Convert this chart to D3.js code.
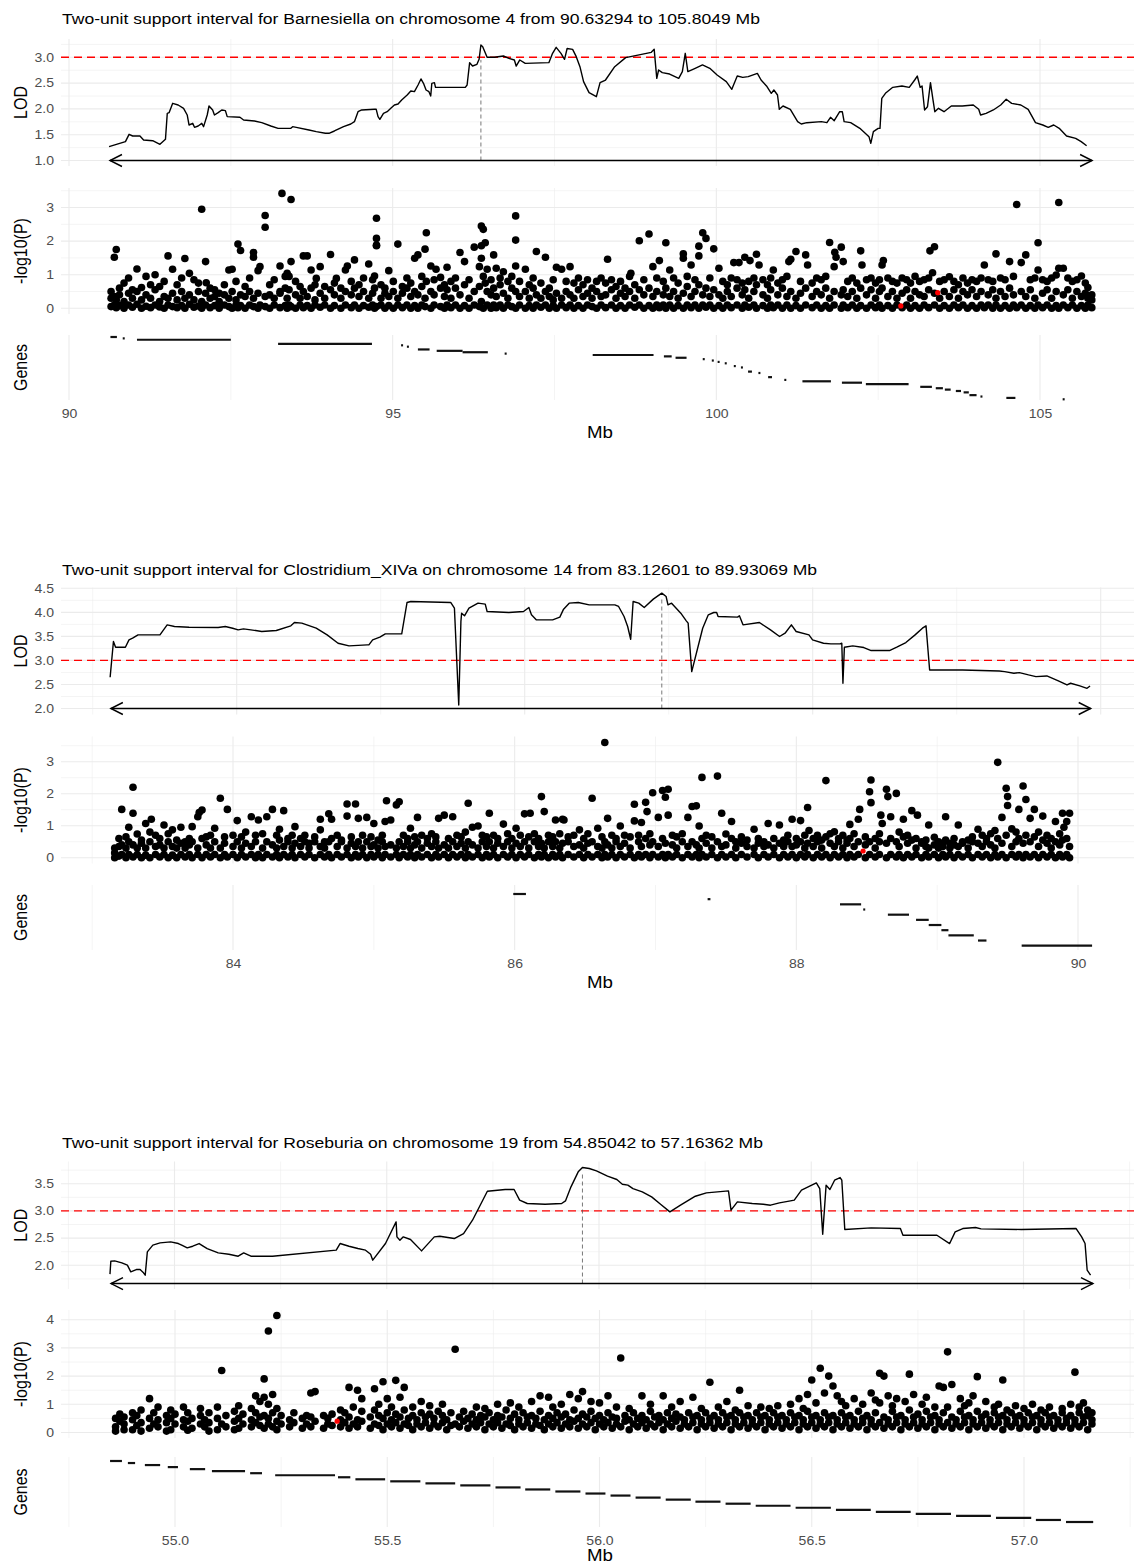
<!DOCTYPE html>
<html>
<head>
<meta charset="utf-8">
<script src="https://cdn.jsdelivr.net/npm/d3@7"></script>
<style>
  body { margin: 0; background: #fff; }
  text { font-family: "Liberation Sans", Arial, Helvetica, sans-serif; }
</style>
</head>
<body>
<div id="chart"></div>
<script>
// ---- titles and tick labels ----
var titles = [
  "Two-unit support interval for Barnesiella on chromosome 4 from 90.63294 to 105.8049 Mb",
  "Two-unit support interval for Clostridium_XIVa on chromosome 14 from 83.12601 to 89.93069 Mb",
  "Two-unit support interval for Roseburia on chromosome 19 from 54.85042 to 57.16362 Mb"
];
var lodTicks = [[1.0, 1.5, 2.0, 2.5, 3.0], [2.0, 2.5, 3.0, 3.5, 4.0, 4.5], [2.0, 2.5, 3.0, 3.5]];
var pTicks = [[0, 1, 2, 3], [0, 1, 2, 3], [0, 1, 2, 3, 4]];
var mbTicks = [[90, 95, 100, 105], [84, 86, 88, 90], [55.0, 55.5, 56.0, 56.5, 57.0]];
var mbFormat = ["d", "d", ".1f"];

var lodThreshold = 3.0;
var intervals = [[90.63294, 105.8049], [83.12601, 89.93069], [54.85042, 57.16362]];
var arrowLod = [1.0, 2.0, 1.665];
var peakMb = [96.363, 86.952, 55.961];
var peakTop = [2.95, 4.33, 3.72];

// ---- LOD profiles [Mb, LOD] ----
var lod1 = [[90.619,1.268],[90.872,1.365],[90.928,1.507],[90.984,1.475],[91.096,1.475],[91.152,1.397],[91.293,1.384],[91.405,1.313],[91.49,1.41],[91.518,1.914],[91.546,1.927],[91.602,2.108],[91.686,2.076],[91.77,2.011],[91.826,1.882],[91.854,1.688],[91.911,1.72],[91.939,1.643],[91.995,1.669],[92.051,1.72],[92.079,1.656],[92.135,1.882],[92.163,2.056],[92.219,1.979],[92.247,1.882],[92.304,1.927],[92.36,1.979],[92.416,1.966],[92.444,1.85],[92.641,1.837],[92.697,1.785],[92.865,1.766],[92.978,1.733],[93.118,1.669],[93.23,1.623],[93.427,1.623],[93.455,1.656],[93.511,1.643],[93.707,1.591],[93.82,1.559],[93.96,1.527],[94.016,1.527],[94.1,1.572],[94.241,1.656],[94.353,1.707],[94.409,1.753],[94.465,1.946],[94.522,1.979],[94.718,1.992],[94.746,1.992],[94.774,1.85],[94.802,1.798],[94.858,1.914],[94.915,1.946],[94.971,2.011],[95.027,2.076],[95.083,2.095],[95.139,2.173],[95.224,2.269],[95.28,2.347],[95.336,2.334],[95.392,2.463],[95.437,2.58],[95.476,2.496],[95.516,2.366],[95.56,2.334],[95.588,2.25],[95.605,2.496],[95.645,2.508],[95.662,2.418],[96.122,2.418],[96.15,2.463],[96.189,2.896],[96.234,2.831],[96.302,2.864],[96.335,2.961],[96.363,3.238],[96.391,3.206],[96.459,3.0],[96.571,3.0],[96.711,3.025],[96.796,2.98],[96.88,2.948],[96.908,2.831],[96.964,2.948],[97.048,2.883],[97.413,2.896],[97.47,3.077],[97.526,3.193],[97.6,3.077],[97.655,2.961],[97.695,3.17],[97.78,3.154],[97.836,3.012],[97.893,2.818],[97.949,2.528],[98.034,2.315],[98.147,2.237],[98.204,2.508],[98.288,2.56],[98.43,2.818],[98.599,2.993],[98.995,3.096],[99.04,3.154],[99.08,2.592],[99.108,2.754],[99.165,2.702],[99.278,2.676],[99.419,2.592],[99.475,2.722],[99.52,3.077],[99.56,2.722],[99.673,2.786],[99.786,2.851],[99.899,2.786],[100.012,2.657],[100.154,2.528],[100.239,2.379],[100.323,2.637],[100.408,2.612],[100.493,2.625],[100.634,2.689],[100.691,2.56],[100.775,2.444],[100.849,2.302],[100.889,2.366],[100.945,2.269],[100.973,1.992],[101.03,2.056],[101.143,1.992],[101.256,1.753],[101.312,1.707],[101.397,1.733],[101.623,1.753],[101.708,1.733],[101.764,1.837],[101.821,1.772],[101.906,1.946],[101.946,1.946],[101.974,1.753],[102.075,1.733],[102.217,1.623],[102.358,1.462],[102.386,1.333],[102.426,1.559],[102.5,1.623],[102.528,1.623],[102.556,2.205],[102.612,2.302],[102.726,2.418],[102.867,2.444],[102.98,2.418],[103.064,2.56],[103.104,2.637],[103.149,2.418],[103.178,2.444],[103.217,1.979],[103.262,2.043],[103.308,2.508],[103.347,2.173],[103.375,1.946],[103.432,2.011],[103.517,1.946],[103.63,2.056],[103.799,2.056],[103.969,2.076],[104.053,1.992],[104.082,1.882],[104.167,1.914],[104.279,1.979],[104.393,2.076],[104.478,2.186],[104.562,2.108],[104.704,2.076],[104.817,1.992],[104.93,1.733],[105.043,1.688],[105.127,1.643],[105.212,1.688],[105.297,1.623],[105.41,1.475],[105.551,1.429],[105.636,1.365],[105.72,1.287]];

var lod2 = [[83.121,2.65],[83.144,3.393],[83.159,3.275],[83.227,3.275],[83.252,3.427],[83.277,3.462],[83.315,3.531],[83.467,3.531],[83.517,3.74],[83.568,3.705],[83.669,3.691],[83.871,3.684],[83.921,3.705],[83.972,3.67],[84.01,3.636],[84.047,3.656],[84.098,3.636],[84.174,3.601],[84.275,3.622],[84.376,3.719],[84.401,3.788],[84.452,3.775],[84.552,3.67],[84.628,3.531],[84.704,3.358],[84.78,3.302],[84.906,3.323],[84.918,3.323],[84.944,3.427],[84.994,3.483],[85.032,3.552],[85.146,3.552],[85.183,4.205],[85.209,4.226],[85.486,4.205],[85.512,4.087],[85.542,2.073],[85.557,3.809],[85.562,3.983],[85.582,3.927],[85.613,4.087],[85.676,4.191],[85.726,4.17],[85.739,4.018],[85.89,3.997],[85.992,4.018],[86.029,4.101],[86.047,3.948],[86.08,3.844],[86.194,3.844],[86.244,3.9],[86.27,4.066],[86.309,4.191],[86.372,4.205],[86.448,4.156],[86.626,4.156],[86.652,4.122],[86.69,3.913],[86.715,3.705],[86.736,3.441],[86.753,4.226],[86.792,4.191],[86.83,4.101],[86.893,4.275],[86.952,4.4],[86.982,4.33],[86.995,4.156],[87.02,4.191],[87.084,3.983],[87.122,3.823],[87.135,3.775],[87.16,2.768],[87.236,3.67],[87.275,3.948],[87.313,3.997],[87.333,3.997],[87.343,3.913],[87.478,3.9],[87.491,3.927],[87.516,3.74],[87.63,3.788],[87.707,3.636],[87.77,3.497],[87.808,3.566],[87.852,3.74],[87.885,3.601],[87.974,3.531],[87.999,3.427],[88.075,3.358],[88.126,3.344],[88.19,3.344],[88.202,3.358],[88.21,2.525],[88.22,3.275],[88.278,3.302],[88.355,3.268],[88.406,3.205],[88.533,3.205],[88.584,3.275],[88.647,3.372],[88.711,3.531],[88.762,3.67],[88.787,3.719],[88.812,2.802],[89.041,2.802],[89.295,2.781],[89.333,2.768],[89.397,2.733],[89.435,2.747],[89.499,2.698],[89.55,2.663],[89.626,2.677],[89.702,2.58],[89.766,2.49],[89.791,2.525],[89.855,2.469],[89.905,2.42],[89.926,2.469]];

var lod3 = [[54.848,1.837],[54.85,2.075],[54.859,2.082],[54.876,2.045],[54.889,2.002],[54.897,1.879],[54.91,1.922],[54.919,1.922],[54.927,1.861],[54.931,1.818],[54.936,2.247],[54.949,2.37],[54.966,2.412],[54.991,2.431],[55.009,2.4],[55.017,2.37],[55.03,2.321],[55.043,2.351],[55.058,2.4],[55.077,2.308],[55.103,2.229],[55.128,2.204],[55.15,2.167],[55.163,2.229],[55.18,2.167],[55.231,2.167],[55.381,2.278],[55.39,2.4],[55.411,2.351],[55.432,2.308],[55.45,2.278],[55.462,2.204],[55.467,2.094],[55.497,2.4],[55.522,2.798],[55.524,2.523],[55.531,2.461],[55.539,2.523],[55.556,2.474],[55.582,2.265],[55.612,2.523],[55.625,2.535],[55.659,2.492],[55.681,2.584],[55.702,2.829],[55.737,3.362],[55.779,3.393],[55.8,3.393],[55.813,3.197],[55.831,3.136],[55.873,3.123],[55.912,3.136],[55.921,3.184],[55.934,3.442],[55.951,3.718],[55.961,3.797],[55.977,3.779],[55.994,3.736],[56.02,3.638],[56.042,3.577],[56.055,3.491],[56.068,3.473],[56.08,3.411],[56.102,3.35],[56.124,3.258],[56.145,3.123],[56.167,2.982],[56.192,3.105],[56.227,3.27],[56.253,3.332],[56.305,3.368],[56.311,3.013],[56.326,3.166],[56.361,3.136],[56.387,3.123],[56.404,3.105],[56.425,3.148],[56.451,3.184],[56.46,3.197],[56.477,3.381],[56.512,3.515],[56.52,3.411],[56.527,2.572],[56.535,3.473],[56.544,3.393],[56.555,3.564],[56.568,3.613],[56.572,3.564],[56.579,2.658],[56.641,2.688],[56.71,2.676],[56.716,2.553],[56.796,2.553],[56.826,2.4],[56.839,2.615],[56.857,2.676],[56.887,2.694],[56.9,2.67],[56.995,2.658],[57.124,2.676],[57.137,2.523],[57.145,2.4],[57.15,1.91],[57.158,1.818]];

// ---- SNP -log10(P): [Mb, p, p, ...] (several SNPs read at about the same position) ----
var snp1 = [[90.65,.05,.3,.5],[90.70,.1,.35,1.52],[90.73,.02,.25,1.75],[90.78,.08,.4,.6],[90.85,0,.2,.75],[90.92,.1,.45,.9],[90.98,.03,.3,.55],[91.05,.12,.5,1.17],[91.12,0,.25,.62],[91.19,.06,.4,.95],[91.26,.02,.3,.7],[91.33,.1,.55,1.0],[91.40,.04,.2,.65],[91.47,0,.35,.8],[91.53,.1,.3,1.56],[91.60,.05,.45,1.16],[91.67,.02,.25,.7],[91.74,.08,.5,.9],[91.79,0,.3,1.48],[91.86,.12,.4,1.04],[91.93,.03,.25,.85],[92.00,.07,.5,.75],[92.05,0,.2,2.95],[92.11,.1,.45,1.39],[92.12,.76],[92.18,.02,.3,.6],[92.25,.08,.35,.55],[92.32,0,.2,.45],[92.40,.1,.4,.7],[92.47,.05,.3,1.14],[92.52,0,.5,1.16],[92.58,.1,.25,.8],[92.61,.02,1.91],[92.65,.08,.4,1.72],[92.72,0,.35,.65],[92.79,.1,.5,.9],[92.85,.05,.3,1.66,1.52],[92.92,0,.45,1.12],[92.95,.1,1.24],[93.03,.05,.35,2.76,2.41],[93.10,0,.4,.7],[93.17,.1,.3,.85],[93.26,.02,.5,1.26,.45],[93.29,3.42],[93.34,.08,.6,.95],[93.37,0,.3,1.04],[93.40,.1,.55,.95],[93.43,.05,1.39,3.24],[93.50,0,.4,.8],[93.57,.1,.3,.65],[93.62,.02,.5,1.56],[93.68,.08,.35,1.56],[93.74,0,.6,1.14],[93.80,.1,.25,.7],[93.82,.89],[93.88,.03,.45,1.24],[93.95,.1,.3,.65],[94.04,0,.55,1.6],[94.10,.08,.4,.75],[94.13,.89],[94.20,0,.3,.6],[94.27,.1,.5,1.14],[94.30,1.26],[94.36,.02,.4,.8],[94.41,.1,.6,1.44],[94.48,0,.35,.7],[94.55,.08,.5,.9],[94.63,.03,.3,1.32],[94.69,.1,.45,.85],[94.72,0,.6,.96],[94.75,.05,2.68,2.08,1.86,1.88],[94.82,.1,.3,.7],[94.88,0,.45,.6],[94.94,.08,.35,1.12],[95.01,0,.5,.8],[95.08,.1,.3,1.91],[95.15,.02,.45,.65],[95.22,.1,.6,.9],[95.28,0,.35,.75],[95.34,.08,.5,1.49],[95.39,0,.4,1.59],[95.45,.1,.65,.95],[95.50,.05,.3,1.76],[95.52,2.25,.8],[95.59,0,.5,1.26],[95.64,.1,.4,.85],[95.67,1.16],[95.74,.05,.6,.92],[95.80,0,.35,.7],[95.84,.1,.55,1.22],[95.90,.02,.3,.8],[95.97,.1,.6,.9],[96.04,0,.4,1.66],[96.11,.08,.7,1.39],[96.18,0,.3,.85],[96.26,.1,.5,1.82],[96.34,.05,.65,1.24],[96.37,.2,2.45,1.86,1.49],[96.40,0,2.35,.95],[96.43,1.95,.75],[96.46,.1,.5,1.16],[96.52,0,.4,.85],[96.56,.1,.6,1.59],[96.60,.02,.35,1.19],[96.66,.1,.7,.9],[96.71,0,.45,1.09],[96.78,.1,.3,.8],[96.84,.05,.6,.95],[96.90,0,.5,2.75,2.03,1.26],[96.96,.1,.35,.8],[97.05,0,.5,1.16],[97.11,.08,.3,.7],[97.17,0,.6,.9],[97.22,.1,.4,1.69],[97.29,.03,.3,.75],[97.36,.1,.5,1.52],[97.42,0,.35,.6],[97.48,.08,.25,.85],[97.53,0,.45,1.22],[97.61,.1,.3,1.16],[97.68,.02,.5,.8],[97.74,.1,.4,1.24],[97.80,0,.3,.75],[97.87,.08,.55,.9],[97.94,0,.35,.7],[98.01,.1,.45,.85],[98.08,.05,.3,.6],[98.15,0,.5,.8],[98.22,.1,.35,.9],[98.29,.02,.4,.75],[98.32,1.46],[98.38,.1,.55,.85],[98.45,0,.3,.65],[98.52,.08,.45,.8],[98.59,0,.35,.6],[98.66,.1,.5,.95],[98.68,1.04],[98.74,.03,.3,.7],[98.81,.1,.55,2.01],[98.88,0,.4,.85],[98.96,.08,.6,2.21],[99.02,0,.35,1.24],[99.08,.1,.5,.9],[99.12,.02,1.42],[99.18,.1,.4,.8],[99.22,0,.6,1.95],[99.28,.1,.35,1.14],[99.34,0,.5,.9],[99.41,.08,.3,.75],[99.49,0,.45,1.62,1.49],[99.55,.1,.65,.95],[99.61,.02,.35,1.29],[99.67,.1,.5,.85],[99.73,0,.7,1.56,1.85],[99.79,.1,.4,2.25],[99.84,.03,.6,2.08],[99.90,.1,.35,.9],[99.96,0,.55,1.77],[100.04,.08,.4,1.19],[100.10,0,.3,.8],[100.17,.1,.5,.7],[100.23,.02,.35,.9],[100.27,1.36],[100.32,.1,.6,.85],[100.35,1.36],[100.40,0,.4,.75],[100.44,.1,.55,1.52],[100.50,.03,.3,.8],[100.52,1.42],[100.58,.1,.5,.9],[100.62,0,.7,1.61],[100.66,1.29],[100.72,.08,.4,.85],[100.79,0,.3,.7],[100.84,.1,.55,.9],[100.88,.02,1.14],[100.95,.1,.4,.75],[101.02,0,.6,.85],[101.09,.1,.35,.95],[101.12,1.39],[101.15,0,.5,1.46],[101.23,.08,.3,1.69],[101.30,0,.45,.8],[101.38,.1,.6,1.59],[101.41,1.29],[101.48,.02,.35,.75],[101.55,.1,.5,.9],[101.62,0,.4,.85],[101.69,.08,.6,.95],[101.75,0,.3,1.96],[101.82,.1,.5,1.24],[101.83,1.67],[101.85,1.52],[101.93,0,.4,1.82],[101.96,.1,.55,1.39],[102.03,.02,.35,.8],[102.10,.1,.5,.9],[102.17,0,.3,.75],[102.23,.08,.6,1.71],[102.25,1.29],[102.32,0,.4,.85],[102.39,.1,.55,.9],[102.46,.02,.3,.75],[102.52,.1,.5,.85],[102.56,0,.6,1.29],[102.58,1.42],[102.65,.08,.35,.9],[102.72,0,.5,.8],[102.79,.1,.3,.75],[102.87,.02,.45,.9],[102.94,.1,.55,.85],[103.00,0,.3,.75],[103.07,.08,.5,.95],[103.14,0,.4,.8],[103.21,.1,.35,.85],[103.28,.02,.55,.9],[103.30,1.71],[103.34,1.06],[103.37,.1,.45,1.83],[103.45,0,.3,.8],[103.52,.08,.5,.85],[103.60,0,.35,.94],[103.67,.1,.55,.8],[103.74,.02,.3,.7],[103.81,.1,.5,.9],[103.88,0,.4,.75],[103.95,.08,.55,.85],[104.02,0,.35,.8],[104.09,.1,.5,.9],[104.14,.02,1.29],[104.20,.1,.4,.85],[104.27,0,.55,.8],[104.32,.1,.3,1.62],[104.39,0,.5,.9],[104.46,.08,.35,.85],[104.53,0,.6,1.39],[104.59,.1,.4,.95],[104.64,.02,3.09],[104.71,.1,.5,1.36],[104.78,0,.35,1.59],[104.85,.08,.55,.85],[104.92,0,.3,.9],[104.97,.1,1.95,1.14],[105.04,.02,.45,.85],[105.11,.1,.55,.8],[105.18,0,.3,.9],[105.25,.08,.5,.99],[105.29,0,3.15,1.19],[105.36,.1,.4,1.19],[105.43,.02,.55,.9],[105.50,.1,.3,.8],[105.57,0,.5,.85],[105.64,.08,.35,.96],[105.70,0,.45,.75],[105.74,.1,.62,.3],[105.80,.02,.25,.4]];
var lead1 = [[102.85, 0.07], [103.42, 0.465]];

var snp2 = [[83.16,0,.3,.15],[83.19,.05,.35,.6],[83.21,.1,.4,1.51],[83.24,0,.3,.65],[83.26,.1,.5,.95],[83.29,.02,.4,2.2,1.39],[83.32,.1,.3,.74],[83.35,0,.45,.55],[83.38,.08,.3,1.07],[83.41,0,.5,.8],[83.42,1.2],[83.45,.1,.35,.7],[83.48,.02,.4,.6],[83.51,.1,.3,1.02],[83.54,0,.5,.75],[83.57,.08,.35,.87],[83.60,0,.3,.55],[83.63,.1,.45,.95],[83.66,.02,.3,.5],[83.69,.1,.4,.6],[83.71,0,.97,.5],[83.75,.1,.3,1.28],[83.76,1.41],[83.78,0,.6,1.49],[83.81,.1,.4,.65],[83.84,.02,.3,.7],[83.87,.1,.5,.92],[83.91,0,.3,1.86],[83.94,.1,.45,.65],[83.96,.02,1.51],[84.00,.1,.35,.7],[84.03,0,.5,1.16],[84.06,.1,.3,.65],[84.09,.02,.45,.8],[84.13,.1,.35,1.28],[84.16,0,.5,.7],[84.18,.1,1.18],[84.21,0,.3,.75],[84.24,.1,.5,1.28],[84.28,.02,.4,1.51],[84.31,.1,.3,.7],[84.33,0,.89,.55],[84.36,.1,.35,1.47],[84.39,.02,.5,.6],[84.42,.1,.3,.7],[84.44,0,.97,.45],[84.48,.1,.35,.6],[84.51,.02,.5,.7],[84.54,.1,.3,.45],[84.58,0,.5,.65],[84.62,.1,.35,1.2,.87],[84.65,.02,.3,.5],[84.68,.1,.5,1.37],[84.70,0,1.2,.6],[84.74,.1,.35,.7],[84.77,.02,.5,.55],[84.81,.1,.3,1.68,1.3],[84.84,0,.45,.65],[84.87,.1,.35,1.68],[84.89,.02,1.23,.5],[84.92,.1,.3,.7],[84.95,0,.5,1.26],[84.98,.1,.35,.65],[85.00,.02,1.07,.4],[85.03,.1,.3,.55],[85.06,0,.5,.7],[85.08,.1,1.13,.35],[85.09,1.78],[85.12,.02,.4,1.18],[85.16,.1,.3,1.65],[85.18,0,1.75,.5],[85.21,.1,.35,.7],[85.24,.02,.5,.6],[85.26,.1,.92,.3],[85.29,0,.4,.65],[85.31,.1,1.26,.5],[85.34,.02,.3,.7],[85.38,.1,.45,.6],[85.41,0,.35,.75],[85.44,.1,.5,.65],[85.46,.02,1.23,.3],[85.50,.1,.4,1.33],[85.53,0,.3,.6],[85.56,.1,.5,1.28],[85.59,.02,.35,.7],[85.62,.1,.45,.65],[85.65,0,.3,.8],[85.67,.1,1.7,.5],[85.70,.02,.95,.4],[85.74,.1,.3,.99],[85.77,0,.5,.7],[85.80,.1,.35,.65],[85.82,.02,1.39,.5],[85.85,.1,.3,.7],[85.88,0,.45,.6],[85.92,.1,.35,1.05],[85.95,.02,.5,.75],[85.98,.1,.3,.6],[86.01,0,.92,.45],[86.04,.1,.35,.7],[86.07,.02,1.37,.5],[86.10,.1,.3,.65],[86.11,1.39],[86.14,0,.5,.75],[86.17,.1,.35,.6],[86.19,.02,1.91,.45],[86.21,.1,1.44,.3],[86.24,0,.5,.7],[86.27,.1,.35,.65],[86.29,.02,1.18,.5],[86.32,.1,.3,.75],[86.34,0,1.2,.45],[86.35,1.18],[86.38,.1,.5,.65],[86.42,.02,.35,.7],[86.46,.1,.87,.4],[86.49,0,.3,.6],[86.52,.1,.45,.75],[86.55,.02,1.86,.5],[86.59,.1,.92,.35],[86.62,0,.3,.65],[86.64,.1,3.6,.5],[86.66,.02,1.23,.4],[86.69,.1,.3,.7],[86.72,0,.5,.6],[86.75,.1,.99,.35],[86.78,.02,.45,.7],[86.82,.1,.3,.65],[86.85,0,1.67,1.15],[86.88,.1,.5,.7],[86.90,.02,1.1,.35],[86.93,.1,1.73,.6],[86.94,1.44],[86.96,0,.4,.75],[86.98,.1,2.03,.5],[87.02,.02,1.26,.35],[87.05,.1,2.1,.6],[87.07,0,1.89,.45],[87.09,.1,2.14,1.33],[87.12,.02,.4,.7],[87.15,.1,.3,.65],[87.19,0,.5,.75],[87.23,.1,1.26,.35],[87.26,.02,1.6,.5],[87.29,.1,1.62,.4],[87.31,0,.99,.3],[87.33,.1,2.51,.6],[87.36,.02,.45,.7],[87.40,.1,.3,.65],[87.44,0,2.55,.5],[87.47,.1,1.39,.35],[87.50,.02,.74,.4],[87.54,.1,1.13,.6],[87.57,0,.3,.5],[87.61,.1,.45,.65],[87.65,.02,.35,.55],[87.70,.1,.89,.3],[87.73,0,.45,.6],[87.77,.1,.35,.5],[87.80,.02,1.07,.4],[87.84,.1,.3,.6],[87.88,0,1.02,.45],[87.91,.1,.35,.55],[87.94,.02,.5,.7],[87.97,.1,1.2,.35],[88.00,0,.4,.6],[88.03,.1,1.16,.5],[88.06,.02,.3,.7],[88.08,.1,1.57,.45],[88.09,.85],[88.12,0,.35,.6],[88.15,.1,.5,.7],[88.18,.02,.3,.55],[88.21,.1,2.41,.65],[88.24,0,.45,.75],[88.27,.1,.81,.35],[88.30,.02,.5,.6],[88.33,.1,.3,.7],[88.36,0,.55,.45],[88.38,.1,1.04,.6],[88.41,.02,.35,.75],[88.44,.1,1.2,.5],[88.45,1.51],[88.49,0,.4,.65],[88.52,.1,2.06,.5],[88.53,2.43,1.72],[88.56,.02,.3,.6],[88.59,.1,.5,.75],[88.60,1.33],[88.61,1.07],[88.64,0,2.14,.45],[88.65,1.91],[88.67,.1,1.28,.6],[88.71,.02,2.01,.5],[88.73,.1,.35,.8],[88.76,0,1.2,.65],[88.79,.1,.45,.7],[88.82,.02,1.47,.55],[88.85,.1,.3,.6],[88.86,1.33],[88.89,0,.5,.45],[88.92,.1,.35,.55],[88.94,.02,1.02,.3],[88.98,.1,.64,.4],[89.01,0,.3,.5],[89.04,.1,.45,.35],[89.06,.02,1.28,.55],[89.09,.1,.3,.45],[89.12,0,.4,.6],[89.15,.1,1.02,.35],[89.18,.02,.45,.5],[89.22,.1,.3,.55],[89.25,0,.5,.65],[89.29,.1,.89,.45],[89.32,.02,.35,.7],[89.35,.1,.5,.6],[89.38,0,.4,.75],[89.41,.1,.3,.85],[89.43,.02,2.98,.6],[89.46,.1,1.26,.45],[89.49,0,2.17,.7],[89.50,1.91,1.63],[89.53,.1,.35,.9],[89.56,.02,.5,.8],[89.58,.1,1.51,.6],[89.61,0,2.24,.45],[89.63,.1,1.82,.7],[89.66,.02,1.23,.5],[89.69,.1,1.51,.65],[89.72,0,.35,.8],[89.75,.1,1.3,.55],[89.78,.02,.45,.7],[89.81,.1,.3,.6],[89.84,0,1.13,.5],[89.87,.1,.4,.75],[89.89,.02,1.39,.55],[89.90,.95],[89.92,.1,1.13,.6],[89.94,0,1.39,.35]];
var lead2 = [[88.474, 0.21]];

var snp3 = [[54.86,.2,.5,.05],[54.87,.4,.65],[54.88,.3,.55,.1],[54.90,.1,.45,.7],[54.91,.25,.6],[54.92,.35,.8,.05],[54.94,.15,.5,1.2],[54.95,.3,.7],[54.96,.2,.45,.9],[54.98,.35,.6,.05],[54.99,.1,.5,.8],[55.00,.3,.65],[55.02,.2,.45,.9],[55.03,.4,.7,.08],[55.04,.15,.5],[55.06,.3,.6,.85],[55.07,.2,.45],[55.08,.35,.7,.05],[55.10,.1,.5,.9],[55.11,.3,2.2],[55.12,.2,.6],[55.14,.4,.75,.1],[55.15,.15,.5,.95],[55.16,.3,.65],[55.18,.2,.45,.85],[55.19,.35,.7,1.3],[55.20,.25,.55,1.1],[55.21,.15,.6,1.25,1.9],[55.22,.3,.5,3.6,1.0],[55.23,.2,.7,1.35],[55.24,.1,.4,4.15,.85],[55.25,.3,.6],[55.27,.2,.45],[55.28,.35,.7],[55.30,.15,.5],[55.31,.3,.6],[55.32,.2,.55,1.4],[55.33,.4,1.45],[55.35,.15,.6],[55.36,.3,.5],[55.37,.25,.65],[55.39,.2,.45,.8],[55.40,.35,.7],[55.41,.15,.55,1.6],[55.42,.3,.9],[55.43,.2,.45,1.5],[55.44,.4,.75,1.2],[55.46,.15,.55],[55.47,.3,.8,1.55],[55.48,.25,.6,1.0],[55.49,.1,.5,1.8],[55.50,.3,.7,1.2],[55.51,.2,.45,.9],[55.52,.35,.65,1.85],[55.53,.15,.55,1.25],[55.54,.3,.8,1.6],[55.55,.25,.5],[55.56,.1,.6,.9],[55.57,.3,.45],[55.58,.2,.7,1.1],[55.59,.35,.55],[55.60,.15,.65,.95],[55.61,.3,.5],[55.62,.2,.75],[55.63,.35,.6,1.0],[55.64,.1,.45],[55.65,.25,.7],[55.66,.3,2.95],[55.67,.2,.55],[55.68,.4,.75],[55.69,.15,.5],[55.70,.3,.65],[55.71,.2,.45,.9],[55.72,.35,.6],[55.73,.1,.55,.85],[55.74,.3,.7],[55.75,.2,.45],[55.76,.35,.6,1.0],[55.77,.15,.55],[55.78,.3,.8],[55.79,.25,.5,1.05],[55.80,.1,.65],[55.81,.3,.45,.9],[55.82,.2,.7],[55.83,.35,.55],[55.84,.15,.6,1.1],[55.85,.3,.5],[55.86,.25,.75,1.3],[55.87,.1,.45],[55.88,.3,.6,1.25],[55.89,.2,.5,.9],[55.90,.35,.7],[55.91,.15,.55,1.0],[55.92,.3,.65],[55.93,.2,.45,1.35],[55.94,.4,.8],[55.95,.15,.5,1.2],[55.96,.3,.65,1.45],[55.97,.2,.55],[55.98,.35,.75,1.1],[55.99,.1,.5],[56.00,.3,.6,1.05],[56.01,.2,.45],[56.02,.35,.7,1.3],[56.03,.15,.55],[56.04,.3,.5,.9],[56.05,.2,2.64],[56.06,.4,.6],[56.07,.1,.45,.85],[56.08,.3,.7],[56.09,.2,.5],[56.10,.35,.6,1.3],[56.11,.15,.45],[56.12,.3,.75,1.0],[56.13,.2,.55],[56.14,.35,.6],[56.15,.1,.45,1.3],[56.16,.3,.7],[56.17,.2,.5,.9],[56.18,.4,.65],[56.19,.15,.55,1.1],[56.20,.3,.45],[56.21,.2,.7],[56.22,.35,.55,1.25],[56.23,.1,.6],[56.24,.3,.45,.85],[56.25,.2,.7],[56.26,.35,.5,1.78],[56.27,.15,.6],[56.28,.3,.45,.9],[56.29,.2,.7],[56.30,.35,.55,1.1],[56.31,.1,.6],[56.32,.3,.45,.8],[56.33,.2,.7,1.5],[56.34,.35,.55],[56.35,.15,.6,.95],[56.36,.3,.45],[56.37,.2,.7],[56.38,.35,.55,.9],[56.39,.1,.6],[56.40,.3,.45,.85],[56.41,.2,.7],[56.42,.35,.55,.95],[56.43,.15,.6],[56.44,.3,.45],[56.45,.2,.7,1.0],[56.46,.35,.55],[56.47,.1,.6,1.2],[56.48,.3,.45,.85],[56.49,.2,.75,1.35],[56.50,.35,.55,1.86],[56.51,.15,.6,1.05],[56.52,.3,.45,2.28],[56.53,.2,.7,1.4],[56.54,.35,.55,2.0],[56.55,.1,.6,1.65],[56.56,.3,.45,1.3],[56.57,.2,.7,1.1],[56.58,.35,.55,.95],[56.59,.15,.6],[56.60,.3,.45,1.2],[56.61,.2,.75],[56.62,.35,.5,1.0],[56.63,.1,.6],[56.64,.3,.45,1.4],[56.65,.2,.7,1.15],[56.66,.35,2.1,1.05],[56.67,.15,.55,2.0],[56.68,.3,.45,1.3],[56.69,.2,.75,.95],[56.70,.35,.55,1.2],[56.71,.1,.6],[56.72,.3,.45,1.1],[56.73,.2,2.07,.8],[56.74,.35,.55,1.35],[56.75,.15,.65],[56.76,.3,.45,1.0],[56.77,.2,.75,1.25],[56.78,.35,.55],[56.79,.1,.6,.9],[56.80,.3,.45,1.65],[56.81,.2,.7,1.6],[56.82,.35,2.86,.9],[56.83,.15,.55,1.7],[56.84,.3,.45],[56.85,.2,.75,1.2],[56.86,.35,.55,.95],[56.87,.1,.6,1.05],[56.88,.3,.45,1.3],[56.89,.2,1.98,.75],[56.90,.35,.55],[56.91,.15,.65,1.1],[56.92,.3,.45],[56.93,.2,.7,.9],[56.94,.35,.55,1.0],[56.95,.1,1.86,.6],[56.96,.3,.45,.8],[56.97,.2,.7],[56.98,.35,.55,.95],[56.99,.15,.6],[57.00,.3,.45,.85],[57.01,.2,.7],[57.02,.35,.55,1.0],[57.03,.1,.6],[57.04,.3,.45,.8],[57.05,.2,.7],[57.06,.35,.55,.9],[57.07,.15,.6],[57.08,.3,.45],[57.09,.2,.7,.85],[57.10,.35,.5],[57.11,.15,.6,1.0],[57.12,.3,.45,2.14],[57.13,.2,.7,.9],[57.14,.35,.55,1.05],[57.15,.1,.6,.8],[57.16,.3,.45,.7]];
var lead3 = [[55.382, 0.4]];

// ---- genes: [start Mb, end Mb, row] ----
var genes1 = [[90.64,90.74,0],[90.83,90.86,1],[91.05,92.5,2],[93.23,94.68,5],[95.13,95.16,6],[95.22,95.25,7],[95.39,95.57,9],[95.68,96.08,10],[96.08,96.47,11],[96.73,96.75,12],[98.09,99.03,13],[99.19,99.31,14],[99.37,99.54,15],[99.79,99.81,16],[99.93,99.95,17],[100.02,100.04,18],[100.13,100.15,19],[100.27,100.29,21],[100.38,100.4,22],[100.49,100.55,25],[100.65,100.67,26],[100.8,100.86,29],[101.05,101.07,31],[101.33,101.77,32],[101.94,102.25,33],[102.31,102.97,34],[103.15,103.33,36],[103.39,103.5,37],[103.53,103.62,38],[103.7,103.78,39],[103.82,103.9,40],[103.91,104.02,42],[104.08,104.1,43],[104.48,104.62,44],[105.35,105.37,45]];
var genes2 = [[85.99,86.08,0],[87.37,87.39,1],[88.31,88.46,2],[88.475,88.485,3],[88.65,88.8,4],[88.85,88.94,5],[88.94,89.03,6],[89.03,89.08,7],[89.08,89.26,8],[89.29,89.35,9],[89.6,90.1,10]];
var genes3 = [[54.847,54.875,0],[54.889,54.906,1],[54.929,54.965,2],[54.983,55.007,3],[55.035,55.071,4],[55.087,55.165,5],[55.177,55.205,6],[55.236,55.377,7],[55.384,55.413,8],[55.425,55.495,9],[55.507,55.578,10],[55.59,55.66,11],[55.672,55.743,12],[55.755,55.814,13],[55.825,55.884,14],[55.896,55.955,15],[55.967,56.014,16],[56.026,56.073,17],[56.085,56.144,18],[56.156,56.215,19],[56.226,56.285,20],[56.297,56.356,21],[56.368,56.45,22],[56.462,56.545,23],[56.557,56.639,24],[56.651,56.733,25],[56.745,56.828,26],[56.84,56.922,27],[56.934,57.017,28],[57.028,57.087,29],[57.099,57.163,30]];

// ---- page geometry ----
var W = 1134, H = 1564, LEFT = 61, RIGHT = 1134;
var SX = 1.17; // lettering in the reference is a little wider than tall
var layout = [
  {titleY: 24, lod: [39, 166], snp: [188, 314], gene: [335, 400], mbY: 438,
   lodX: [[90, 105], [69, 1040]], botX: [[90, 105], [69, 1040]],
   lodY: [[1, 3], [160.5, 57.3]], pY: [[0, 3], [308.3, 207.5]], gY: [[0, 45], [337, 399.3]]},
  {titleY: 575, lod: [587.5, 714.5], snp: [736.5, 863.5], gene: [885, 950], mbY: 988,
   lodX: [[83, 90], [92.7, 1100.7]], botX: [[84, 90], [233, 1078]],
   lodY: [[2, 4.5], [708.5, 588.3]], pY: [[0, 3], [857.7, 761.7]], gY: [[0, 10], [894, 945.7]]},
  {titleY: 1148, lod: [1161.5, 1289], snp: [1310, 1438], gene: [1457, 1527], mbY: 1561,
   lodX: [[55, 57], [174.5, 1023.5]], botX: [[55, 57], [175, 1024]],
   lodY: [[2, 3.5], [1265.3, 1183.7]], pY: [[0, 4], [1432.5, 1319.7]], gY: [[0, 30], [1461, 1522]]}
];

var panels = [
  {lod: lod1, snp: snp1, lead: lead1, genes: genes1},
  {lod: lod2, snp: snp2, lead: lead2, genes: genes2},
  {lod: lod3, snp: snp3, lead: lead3, genes: genes3}
];

var svg = d3.select("#chart").append("svg")
    .attr("width", W)
    .attr("height", H)
    .style("background", "#fff");

function minorsOf(major) {
  var step = major[1] - major[0];
  return [major[0] - step / 2].concat(major.map(function(v) { return v + step / 2; }));
}

function words(g, x, y, s, size, anchor, rotate) {
  return g.append("text")
      .attr("transform", rotate
        ? "translate(" + x + "," + y + ") rotate(-90) scale(1," + SX + ")"
        : "translate(" + x + "," + y + ") scale(" + SX + ",1)")
      .attr("text-anchor", anchor)
      .style("font-size", size + "px")
      .style("fill", "#000")
      .text(s);
}

// vertical + horizontal grid for one strip
function grid(g, x, xMajor, y, yMajor, band) {
  var vx = function(v) { var p = x(v); return p >= LEFT - 0.5 && p <= RIGHT; };
  var vy = function(v) { var p = y ? y(v) : 0; return p >= band[0] && p <= band[1]; };
  var sets = [[minorsOf(xMajor), 0.55], [xMajor, 1.1]];
  sets.forEach(function(s) {
    g.selectAll(null).data(s[0].filter(vx)).enter().append("line")
        .attr("x1", x).attr("x2", x)
        .attr("y1", band[0]).attr("y2", band[1])
        .attr("stroke", "#EBEBEB").attr("stroke-width", s[1]);
  });
  if (!y) return;
  [[minorsOf(yMajor), 0.55], [yMajor, 1.1]].forEach(function(s) {
    g.selectAll(null).data(s[0].filter(vy)).enter().append("line")
        .attr("x1", LEFT).attr("x2", RIGHT)
        .attr("y1", y).attr("y2", y)
        .attr("stroke", "#EBEBEB").attr("stroke-width", s[1]);
  });
}

function leftAxis(g, y, ticks, fmt) {
  var ax = g.append("g")
      .attr("transform", "translate(" + LEFT + ",0)")
      .call(d3.axisLeft(y).tickValues(ticks).tickSize(0).tickPadding(6).tickFormat(d3.format(fmt)));
  ax.select(".domain").remove();
  ax.selectAll("text")
      .attr("transform", "scale(" + SX + ",1)")
      .style("font-size", "12px")
      .style("fill", "#4D4D4D")
      .style("font-family", "'Liberation Sans', Arial, sans-serif");
}

panels.forEach(function(P, i) {
  var L = layout[i];
  var g = svg.append("g");

  var lodX = d3.scaleLinear().domain(L.lodX[0]).range(L.lodX[1]);
  var botX = d3.scaleLinear().domain(L.botX[0]).range(L.botX[1]);
  var lodY = d3.scaleLinear().domain(L.lodY[0]).range(L.lodY[1]);
  var pY = d3.scaleLinear().domain(L.pY[0]).range(L.pY[1]);
  var gY = d3.scaleLinear().domain(L.gY[0]).range(L.gY[1]);

  var lodXMajor = i === 1 ? [84, 86, 88, 90] : mbTicks[i];

  grid(g, lodX, lodXMajor, lodY, lodTicks[i], L.lod);
  grid(g, botX, mbTicks[i], pY, pTicks[i], L.snp);
  grid(g, botX, mbTicks[i], null, null, L.gene);

  // title
  words(g, 62, L.titleY, titles[i], 15, "start", false);

  // ---- LOD strip ----
  g.append("line")
      .attr("x1", LEFT).attr("x2", RIGHT)
      .attr("y1", lodY(lodThreshold)).attr("y2", lodY(lodThreshold))
      .attr("stroke", "#FF0000").attr("stroke-width", 1.4)
      .attr("stroke-dasharray", "8,5");

  g.append("line")
      .attr("x1", lodX(peakMb[i])).attr("x2", lodX(peakMb[i]))
      .attr("y1", lodY(arrowLod[i])).attr("y2", lodY(peakTop[i]))
      .attr("stroke", "#555").attr("stroke-width", 0.8)
      .attr("stroke-dasharray", "4,3");

  var line = d3.line()
      .x(function(d) { return lodX(d[0]); })
      .y(function(d) { return lodY(d[1]); });

  g.append("path")
      .datum(P.lod)
      .attr("d", line)
      .attr("fill", "none")
      .attr("stroke", "#000")
      .attr("stroke-width", 1.4)
      .attr("stroke-linejoin", "round");

  // support interval arrow
  var ax1 = lodX(intervals[i][0]), ax2 = lodX(intervals[i][1]), ay = lodY(arrowLod[i]);
  var arrow = g.append("g").attr("stroke", "#000").attr("stroke-width", 1.4).attr("fill", "none");
  arrow.append("line").attr("x1", ax1).attr("x2", ax2).attr("y1", ay).attr("y2", ay);
  arrow.append("polyline").attr("points", [[ax1 + 12, ay - 6], [ax1, ay], [ax1 + 12, ay + 6]].join(" "));
  arrow.append("polyline").attr("points", [[ax2 - 12, ay - 6], [ax2, ay], [ax2 - 12, ay + 6]].join(" "));

  leftAxis(g, lodY, lodTicks[i], ".1f");
  words(g, 27, (L.lod[0] + L.lod[1]) / 2, "LOD", 16, "middle", true);

  // ---- SNP strip ----
  var pts = [];
  P.snp.forEach(function(r) {
    for (var k = 1; k < r.length; k++) pts.push([r[0], r[k]]);
  });
  g.append("g").selectAll("circle")
      .data(pts)
      .enter().append("circle")
      .attr("cx", function(d) { return botX(d[0]); })
      .attr("cy", function(d) { return pY(d[1]); })
      .attr("r", 3.8)
      .attr("fill", "#000");
  g.append("g").selectAll("circle")
      .data(P.lead)
      .enter().append("circle")
      .attr("cx", function(d) { return botX(d[0]); })
      .attr("cy", function(d) { return pY(d[1]); })
      .attr("r", 2.6)
      .attr("fill", "#FF0000");

  leftAxis(g, pY, pTicks[i], "d");
  words(g, 27, (L.snp[0] + L.snp[1]) / 2, "-log10(P)", 16, "middle", true);

  // ---- genes strip ----
  g.append("g").selectAll("line")
      .data(P.genes)
      .enter().append("line")
      .attr("x1", function(d) { return botX(d[0]); })
      .attr("x2", function(d) { return Math.max(botX(d[1]), botX(d[0]) + 2); })
      .attr("y1", function(d) { return gY(d[2]); })
      .attr("y2", function(d) { return gY(d[2]); })
      .attr("stroke", "#111")
      .attr("stroke-width", 2.2);

  words(g, 27, (L.gene[0] + L.gene[1]) / 2, "Genes", 16, "middle", true);

  var bx = g.append("g")
      .attr("transform", "translate(0," + L.gene[1] + ")")
      .call(d3.axisBottom(botX).tickValues(mbTicks[i]).tickSize(0).tickPadding(9).tickFormat(d3.format(mbFormat[i])));
  bx.select(".domain").remove();
  bx.selectAll("text")
      .attr("transform", "scale(" + SX + ",1)")
      .style("font-size", "12px")
      .style("fill", "#4D4D4D")
      .style("font-family", "'Liberation Sans', Arial, sans-serif");

  words(g, 600, L.mbY, "Mb", 16, "middle", false);
});
</script>
</body>
</html>
